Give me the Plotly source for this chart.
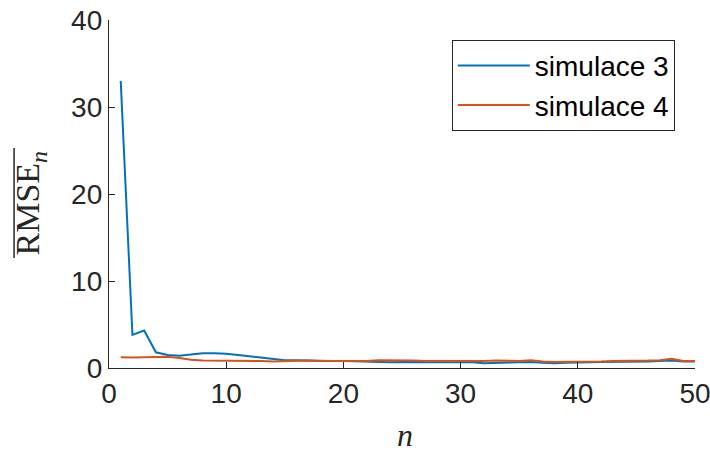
import plotly.graph_objects as go

n_vals = list(range(1, 51))
sim3 = [33.0, 3.8, 4.3, 1.8, 1.5, 1.4, 1.55, 1.7, 1.7, 1.65,
        1.5, 1.35, 1.2, 1.0, 0.9, 0.9, 0.85, 0.85, 0.8, 0.8,
        0.75, 0.7, 0.7, 0.65, 0.7, 0.7, 0.7, 0.7, 0.7, 0.7,
        0.65, 0.55, 0.6, 0.65, 0.65, 0.7, 0.6, 0.55, 0.6, 0.6,
        0.65, 0.7, 0.7, 0.7, 0.7, 0.75, 0.8, 0.85, 0.75, 0.75]
sim4 = [1.25, 1.2, 1.25, 1.25, 1.3, 1.15, 0.95, 0.85, 0.85, 0.85,
        0.8, 0.8, 0.8, 0.75, 0.8, 0.85, 0.85, 0.8, 0.8, 0.8,
        0.75, 0.8, 0.9, 0.9, 0.85, 0.85, 0.8, 0.8, 0.75, 0.75,
        0.8, 0.8, 0.85, 0.8, 0.8, 0.9, 0.75, 0.7, 0.7, 0.7,
        0.75, 0.75, 0.8, 0.8, 0.8, 0.85, 0.9, 1.05, 0.8, 0.8]
series_names = ["simulace 3", "simulace 4"]
x_ticks = [0, 10, 20, 30, 40, 50]
y_ticks = [0, 10, 20, 30, 40]

fig = go.Figure()
fig.add_trace(go.Scatter(x=n_vals, y=sim3, mode="lines", name=series_names[0],
                         line=dict(color="#0072BD", width=2)))
fig.add_trace(go.Scatter(x=n_vals, y=sim4, mode="lines", name=series_names[1],
                         line=dict(color="#D95319", width=2)))

axis_common = dict(showgrid=False, zeroline=False, showline=True, linecolor="#262626",
                   linewidth=1.3, ticks="inside", ticklen=6, tickcolor="#262626",
                   ticklabeloverflow="allow", automargin=False,
                   tickfont=dict(family="Liberation Sans, Arial", size=28, color="#262626"))

fig.update_layout(
    width=710, height=452,
    margin=dict(l=109, r=15, t=20, b=84, autoexpand=False),
    plot_bgcolor="white", paper_bgcolor="white",
    xaxis=dict(range=[0, 50], tickvals=x_ticks, **axis_common),
    yaxis=dict(range=[0, 40], tickvals=y_ticks, **axis_common),
    showlegend=True,
    legend=dict(x=0.585, y=0.943, xanchor="left", yanchor="top",
                bordercolor="#262626", borderwidth=1, bgcolor="white",
                font=dict(family="Liberation Sans, Arial", size=28, color="#000000"),
                itemwidth=72, tracegroupgap=0),
)

# axis labels
fig.add_annotation(text="<i>n</i>", xref="paper", yref="paper", x=0.505, y=-0.192,
                   yanchor="middle", showarrow=False,
                   font=dict(family="Liberation Serif, DejaVu Serif", size=32, color="#262626"))
fig.add_annotation(text="RMSE<sub><i>n</i></sub>", xref="paper", yref="paper",
                   x=-0.134, y=0.474, xanchor="center", yanchor="middle", textangle=-90,
                   showarrow=False,
                   font=dict(family="Liberation Serif, DejaVu Serif", size=34, color="#262626"))
# overline of RMSE
fig.add_shape(type="line", xref="paper", yref="paper", x0=-0.162, x1=-0.162,
              y0=0.316, y1=0.632, line=dict(color="#262626", width=1.5))

fig.write_html("out.html")
